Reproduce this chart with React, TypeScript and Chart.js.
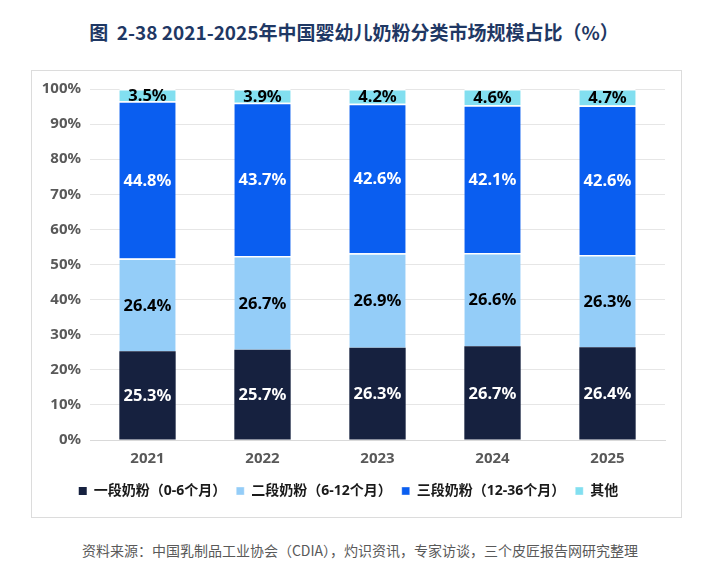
import { useEffect, useRef } from 'react';
import { Chart, registerables } from 'chart.js';

Chart.register(...registerables);

const YEARS = ['2021', '2022', '2023', '2024', '2025'];
const STAGE1 = [25.3, 25.7, 26.3, 26.7, 26.4];
const STAGE2 = [26.4, 26.7, 26.9, 26.6, 26.3];
const STAGE3 = [44.8, 43.7, 42.6, 42.1, 42.6];
const OTHER = [3.5, 3.9, 4.2, 4.6, 4.7];
const SERIES = ['一段奶粉（0-6个月）', '二段奶粉（6-12个月）', '三段奶粉（12-36个月）', '其他'];
const COLORS = ['#16213f', '#94cdf8', '#0a5ef0', '#82dff0'];
const LABEL_COLORS = ['#ffffff', '#000000', '#ffffff', '#000000'];

const FONT = '"Noto Sans", "Noto Sans CJK SC", sans-serif';

const segLabels = {
  id: 'segLabels',
  afterDatasetsDraw(chart: any) {
    const ctx = chart.ctx;
    ctx.save();
    ctx.font = `bold 16.5px ${FONT}`;
    ctx.textAlign = 'center';
    ctx.textBaseline = 'middle';
    chart.data.datasets.forEach((ds: any, i: number) => {
      const meta = chart.getDatasetMeta(i);
      meta.data.forEach((bar: any, j: number) => {
        const { x, y, base } = bar.getProps(['x', 'y', 'base'], true);
        ctx.fillStyle = LABEL_COLORS[i];
        ctx.fillText(ds.data[j].toFixed(1) + '%', x, (y + base) / 2 + 1);
      });
    });
    ctx.restore();
  },
};

export default function App() {
  const ref = useRef<HTMLCanvasElement>(null);

  useEffect(() => {
    if (!ref.current) return;
    const values = [STAGE1, STAGE2, STAGE3, OTHER];
    const chart = new Chart(ref.current, {
      type: 'bar',
      data: {
        labels: YEARS,
        datasets: values.map((d, i) => ({
          label: SERIES[i],
          data: d,
          backgroundColor: COLORS[i],
          borderColor: '#ffffff',
          borderWidth: { top: i === 0 ? 0 : 1.5, left: 0, right: 0, bottom: 0 },
          borderSkipped: false,
          categoryPercentage: 1,
          barPercentage: 0.49,
        })),
      },
      options: {
        responsive: true,
        maintainAspectRatio: false,
        animation: false,
        layout: { padding: { left: 0, right: 16, top: 15, bottom: 9 } },
        plugins: {
          legend: {
            position: 'bottom',
            labels: {
              boxWidth: 8,
              boxHeight: 8,
              padding: 10,
              color: '#1a1a1a',
              font: { family: FONT, size: 14, weight: 'bold' },
            },
          },
          tooltip: { enabled: false },
        },
        scales: {
          x: {
            stacked: true,
            grid: { display: false, drawTicks: false },
            border: { color: '#d9d9d9' },
            ticks: { padding: 10, color: '#595959', font: { family: FONT, size: 15, weight: 'bold' } },
            afterFit: (s: any) => { s.height = 34; },
          },
          y: {
            stacked: true,
            min: 0,
            max: 100,
            grid: { color: '#e6e6e6', drawTicks: false },
            border: { display: false },
            ticks: {
              stepSize: 10,
              padding: 9,
              color: '#595959',
              font: { family: FONT, size: 15, weight: 'bold' },
              callback: (v: any) => v + '%',
            },
            afterFit: (s: any) => { s.width = 58; },
          },
        },
      },
      plugins: [segLabels],
    });
    return () => chart.destroy();
  }, []);

  return (
    <div style={{ position: 'absolute', left: 0, top: 0, width: 726, height: 581, background: '#fff', fontFamily: FONT }}>
      <div style={{ position: 'absolute', left: 0, top: 18, width: 708, textAlign: 'center', fontSize: 19, fontWeight: 'bold', color: '#1f3864', fontFamily: '"Noto Sans CJK SC", sans-serif' }}>
        图&nbsp; 2-38 2021-2025年中国婴幼儿奶粉分类市场规模占比（%）
      </div>
      <div style={{ position: 'absolute', left: 31, top: 70, width: 651, height: 448, boxSizing: 'border-box', border: '1px solid #dcdcdc' }}>
        <div style={{ position: 'absolute', inset: 0 }}>
          <canvas ref={ref} />
        </div>
      </div>
      <div style={{ position: 'absolute', left: 0, top: 540, width: 720, textAlign: 'center', fontSize: 14, color: '#595959', fontFamily: '"Noto Sans CJK SC", sans-serif' }}>
        资料来源：中国乳制品工业协会（CDIA），灼识资讯，专家访谈，三个皮匠报告网研究整理
      </div>
    </div>
  );
}
